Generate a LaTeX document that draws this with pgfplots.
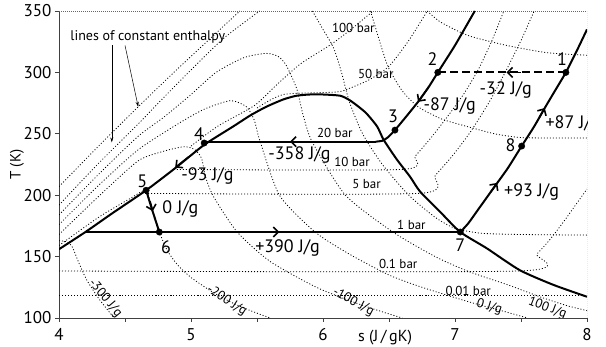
\documentclass[border=0pt]{standalone}
\usepackage{fontspec}
\setmainfont{PT Sans}
\usepackage{pgfplots}
\pgfplotsset{compat=1.18}
\usetikzlibrary{arrows.meta}
\pgfplotsset{
  dl/.style={black, line width=0.8pt, dash pattern=on 1pt off 2pt, smooth, tension=0.4},
  thk/.style={black, line width=2pt},
  arr/.style={black, line width=1.6pt, -{Straight Barb[length=5pt,width=10pt]}},
}
\newcommand{\bigf}{\fontsize{18}{18}\selectfont}
\newcommand{\tickf}{\fontsize{17}{17}\selectfont}
\newcommand{\smlf}{\fontsize{15}{15}\selectfont}
\newcommand{\isof}{\fontsize{13}{13}\selectfont}
\begin{document}
\begin{tikzpicture}
\useasboundingbox (-59pt,-29pt) rectangle (547pt,318pt);
\begin{axis}[
  scale only axis, width=528pt, height=307pt,
  xmin=4, xmax=8, ymin=100, ymax=350,
  axis x line*=bottom, axis y line*=left,
  axis line style={black!75, line width=0.8pt, -},
  xtick={4,5,6,7,8}, minor xtick={4.5,5.5,6.5,7.5},
  ytick={100,150,200,250,300,350},
  tick align=outside, major tick length=4pt, minor tick length=4pt,
  tick style={black!75, line width=0.8pt},
  /pgf/number format/assume math mode=true,
  ticklabel style={font=\tickf},
  xticklabel style={yshift=-3pt},
  xlabel={s (J\,/\,gK)},
  xlabel style={at={(axis description cs:0.6175,0)}, anchor=base, yshift=-24pt, font=\fontsize{16}{16}\selectfont},
  clip=true,
]
% top and right frame (dotted)
\draw[black!60, line width=0.7pt, dash pattern=on 1pt off 1pt] (rel axis cs:0,1) -- (rel axis cs:1,1) -- (rel axis cs:1,0);

% ---------- isobars (dotted) ----------
\addplot[dl] coordinates {(4.0,118) (8.0,118)};
\addplot[dl] coordinates {(4.0,138.3) (7.49,138.3) (7.62,152) (7.72,164) (7.82,178) (7.9,190) (8.0,205)};
\addplot[dl] coordinates {(4.63,201.5) (6.73,201.5) (6.85,216) (6.98,232) (7.12,252) (7.26,276) (7.38,300) (7.5,326) (7.6,350)};
\addplot[dl] coordinates {(4.87,221) (6.6,221) (6.7,232) (6.82,247) (6.95,265) (7.07,283) (7.18,303) (7.28,326) (7.37,350)};
\addplot[dl] coordinates {(5.5,271) (5.7,282) (6.1,284) (6.2,287) (6.35,294) (6.5,305) (6.65,326) (6.79,350)};
\addplot[dl] coordinates {(5.0,240) (5.2,256) (5.48,273) (5.65,290) (5.83,307) (6.05,322) (6.2,334) (6.38,350)};

% ---------- isenthalps (dotted) ----------
\addplot[dl] coordinates {(4.0,163) (4.06,162) (4.1,158) (4.15,145) (4.21,131) (4.3,116) (4.41,101) (4.42,100)};
\addplot[dl] coordinates {(4.0,159) (4.3,182) (4.55,198) (4.66,204) (4.7,189) (4.76,170) (4.82,155) (4.9,143) (5.0,133) (5.15,122) (5.3,113) (5.45,106) (5.6,100)};
\addplot[dl] coordinates {(4.0,168) (4.3,199) (4.6,228) (4.8,236) (4.95,239.5) (5.03,237) (5.08,230) (5.11,215) (5.17,199) (5.35,170) (5.6,146) (5.95,125) (6.23,113) (6.45,105) (6.6,100)};
\addplot[dl] coordinates {(4.0,176) (4.3,208) (4.6,237) (4.9,258) (5.1,270) (5.3,277) (5.42,272) (5.48,261) (5.52,245) (5.67,200) (5.94,170) (6.2,152) (6.5,135) (6.75,125) (7.11,113) (7.35,106) (7.55,100)};
\addplot[dl] coordinates {(4.0,184) (4.3,217) (4.6,248) (4.8,264) (5.0,282) (5.19,300) (5.4,312) (5.57,315.5) (5.66,313) (5.72,306) (5.8,287) (5.85,265) (5.92,243) (6.17,200) (6.53,170) (6.85,150) (7.1,138) (7.4,127) (7.65,117) (7.85,110) (8.0,106)};
\addplot[dl] coordinates {(4.0,192) (4.3,226) (4.6,258) (4.77,277) (5.0,302) (5.25,328) (5.52,350)};
\addplot[dl] coordinates {(5.92,350) (6.0,335) (6.08,320) (6.14,300) (6.2,276) (6.3,250) (6.45,225) (6.65,200) (6.85,182) (7.0,173) (7.2,169) (7.5,168) (8.0,167.5)};
\addplot[dl] coordinates {(4.0,207) (4.3,240) (4.6,272) (4.89,302) (5.15,328) (5.37,350)};
\addplot[dl] coordinates {(6.36,350) (6.45,318) (6.5,303) (6.6,285) (6.72,272) (6.9,262) (7.09,256) (7.3,250) (7.49,247) (7.7,246.6) (8.0,246.6)};
\addplot[dl] coordinates {(6.79,350) (6.89,341) (7.1,330) (7.39,322) (7.7,316) (8.0,314)};

% ---------- saturation dome ----------
\addplot[thk, smooth, tension=0.4] coordinates {(4.0,156) (4.2,170) (4.4,185) (4.66,204) (4.88,222) (5.1,241) (5.32,256) (5.45,265) (5.57,272) (5.7,278) (5.8,281) (5.9,282) (6.0,282) (6.13,281) (6.2,277.5) (6.27,272) (6.33,266.5) (6.41,256) (6.46,245) (6.56,229) (6.66,215) (6.735,203) (6.886,186.6) (7.04,170) (7.24,156.8) (7.49,139) (7.745,127) (8.0,117.3)};

% ---------- 20 bar isobar ----------
\addplot[thk, smooth, tension=0.3] coordinates {(7.15,350) (7.0,322) (6.87,300) (6.80,288) (6.72,276) (6.63,264) (6.545,253) (6.49,247) (6.45,244.3) (6.40,243.6)};
\addplot[thk] coordinates {(6.40,243.6) (5.1,243.6)};
% ---------- 1 bar isobar ----------
\addplot[thk] coordinates {(4.2,170) (7.04,170)};
\addplot[thk, smooth, tension=0.4] coordinates {(7.04,170) (7.1,177) (7.18,189) (7.3,207) (7.4,222) (7.505,240) (7.6,256) (7.68,271) (7.76,285.5) (7.84,300) (7.92,317) (8.0,335)};
% ---------- 1 -> 2 (dashed) ----------
\addplot[thk, dash pattern=on 8pt off 4pt] coordinates {(7.84,300) (6.87,300)};
% ---------- 5 -> 6 ----------
\addplot[thk] coordinates {(4.66,204) (4.7,190) (4.76,170)};

% ---------- arrowheads ----------
\addplot[arr] coordinates {(7.50,300) (7.39,300)};
\addplot[arr] coordinates {(6.80,288) (6.72,276)};
\addplot[arr] coordinates {(5.86,243.6) (5.75,243.6)};
\addplot[arr] coordinates {(4.98,231) (4.88,222.5)};
\addplot[arr] coordinates {(4.69,195) (4.71,187)};
\addplot[arr] coordinates {(5.56,170) (5.67,170)};
\addplot[arr] coordinates {(7.27,202.5) (7.32,210)};
\addplot[arr] coordinates {(7.64,263.5) (7.68,271)};

% ---------- state points ----------
\addplot[only marks, mark=*, mark size=3.2pt, black] coordinates {(7.84,300) (6.87,300) (6.545,253) (5.1,242.5) (4.66,204) (4.76,170) (7.04,170) (7.505,240)};

% ---------- point numbers ----------
\node[font=\bigf] at (axis cs:7.81,311) {1};
\node[font=\bigf] at (axis cs:6.83,311) {2};
\node[font=\bigf] at (axis cs:6.53,264) {3};
\node[font=\bigf] at (axis cs:5.06,250) {4};
\node[font=\bigf] at (axis cs:4.63,211.6) {5};
\node[font=\bigf] at (axis cs:4.81,158) {6};
\node[font=\bigf] at (axis cs:7.04,159) {7};
\node[font=\bigf] at (axis cs:7.42,241) {8};

% ---------- process labels ----------
\node[font=\bigf] at (axis cs:7.385,286) {-32 J/g};
\node[font=\bigf] at (axis cs:6.96,273) {-87 J/g};
\node[font=\bigf, anchor=west] at (axis cs:7.66,257.6) {+87 J/g};
\node[font=\bigf] at (axis cs:7.58,202.2) {+93 J/g};
\node[font=\bigf, anchor=west] at (axis cs:5.56,233) {-358 J/g};
\node[font=\bigf, anchor=west] at (axis cs:4.9,215.6) {-93 J/g};
\node[font=\bigf] at (axis cs:4.92,188.4) {0 J/g};
\node[font=\bigf, anchor=west] at (axis cs:5.46,157) {+390 J/g};

% ---------- isobar labels ----------
\node[font=\isof] at (axis cs:6.23,336) {100 bar};
\node[font=\isof] at (axis cs:6.4,299) {50 bar};
\node[font=\isof] at (axis cs:6.09,250.6) {20 bar};
\node[font=\isof] at (axis cs:6.22,227) {10 bar};
\node[font=\isof] at (axis cs:6.33,209) {5 bar};
\node[font=\isof] at (axis cs:6.67,176) {1 bar};
\node[font=\isof] at (axis cs:6.57,144) {0.1 bar};
\node[font=\isof] at (axis cs:7.1,122) {0.01 bar};

% ---------- isenthalp labels ----------
\node[font=\isof, rotate=-50] at (axis cs:4.35,116) {-300 J/g};
\node[font=\isof, rotate=-33] at (axis cs:5.27,114) {-200 J/g};
\node[font=\isof, rotate=-28] at (axis cs:6.23,113) {-100 J/g};
\node[font=\isof, rotate=-17] at (axis cs:7.26,109) {0 J/g};
\node[font=\isof, rotate=-21] at (axis cs:7.7,108) {100 J/g};

% ---------- annotation ----------
\node[font=\fontsize{14}{14}\selectfont, anchor=west] at (axis cs:4.06,328.8) {lines of constant enthalpy};
\draw[black, line width=0.5pt, -{Stealth[length=5pt,width=3pt]}] (axis cs:4.4,322) -- (axis cs:4.4,243);
\draw[black, line width=0.5pt, -{Stealth[length=5pt,width=3pt]}] (axis cs:4.5,322) -- (axis cs:4.6,272);
\end{axis}
% y axis label
\node[rotate=90, font=\smlf] at (-42pt,153.5pt) {T (K)};
\end{tikzpicture}
\end{document}
